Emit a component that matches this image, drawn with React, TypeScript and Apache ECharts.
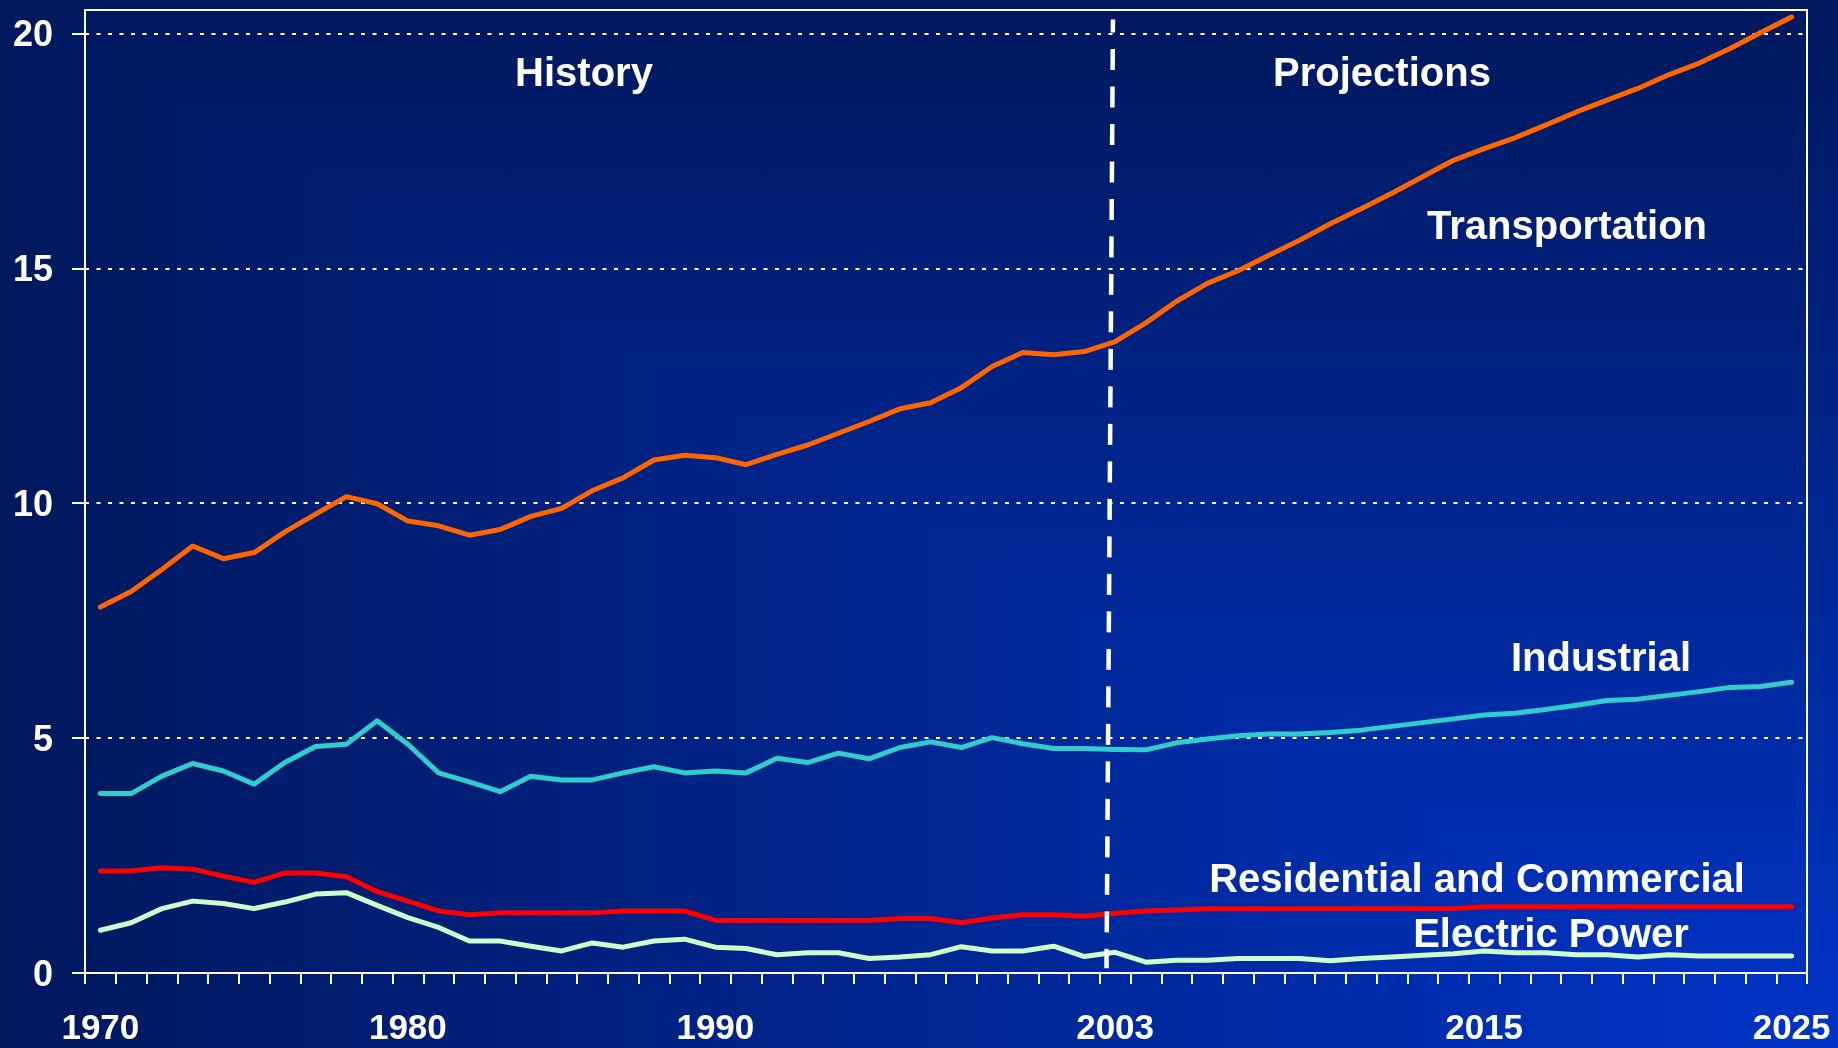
import React, { useEffect, useRef } from "react";
import * as echarts from "echarts";

const FONT = '"Liberation Sans", Arial, sans-serif';
const W = 1838;
const H = 1048;

const years: string[] = Array.from({ length: 56 }, (_, i) => String(1970 + i));
const labelYears = ["1970", "1980", "1990", "2003", "2015", "2025"];
const yTicks = [0, 5, 10, 15, 20];

const transportation = [
  7.79, 8.12, 8.59, 9.09, 8.82, 8.95, 9.39, 9.77, 10.14, 9.99,
  9.62, 9.52, 9.32, 9.44, 9.72, 9.89, 10.27, 10.54, 10.92, 11.02,
  10.97, 10.82, 11.04, 11.24, 11.49, 11.74, 12.01, 12.14, 12.46, 12.91,
  13.21, 13.16, 13.23, 13.44,
  13.84, 14.3, 14.68, 14.95, 15.28, 15.6, 15.95, 16.27, 16.6, 16.95,
  17.3, 17.55, 17.78, 18.05, 18.33, 18.58, 18.83, 19.12, 19.37, 19.68,
  20.02, 20.35,
];

const industrial = [
  3.82, 3.82, 4.19, 4.46, 4.3, 4.02, 4.48, 4.82, 4.87, 5.37,
  4.87, 4.26, 4.07, 3.86, 4.19, 4.11, 4.11, 4.26, 4.39, 4.26,
  4.3, 4.26, 4.57, 4.48, 4.68, 4.56, 4.8, 4.92, 4.8, 5.01,
  4.88, 4.78, 4.78, 4.76,
  4.75, 4.9, 4.98, 5.05, 5.09, 5.09, 5.12, 5.17, 5.25, 5.33,
  5.41, 5.49, 5.53, 5.61, 5.7, 5.8, 5.83, 5.91, 5.99, 6.08,
  6.1, 6.19,
];

const residential = [
  2.17, 2.17, 2.24, 2.21, 2.06, 1.93, 2.13, 2.13, 2.05, 1.73,
  1.53, 1.32, 1.24, 1.28, 1.28, 1.28, 1.28, 1.32, 1.32, 1.32,
  1.12, 1.12, 1.12, 1.12, 1.12, 1.12, 1.16, 1.16, 1.07, 1.17,
  1.24, 1.24, 1.21, 1.27,
  1.32, 1.34, 1.37, 1.37, 1.37, 1.37, 1.37, 1.37, 1.37, 1.37,
  1.37, 1.41, 1.41, 1.41, 1.41, 1.41, 1.41, 1.41, 1.41, 1.41,
  1.41, 1.41,
];

const electric = [
  0.91, 1.07, 1.37, 1.53, 1.48, 1.37, 1.51, 1.68, 1.71, 1.44,
  1.18, 0.97, 0.68, 0.68, 0.57, 0.47, 0.64, 0.55, 0.68, 0.72,
  0.55, 0.52, 0.39, 0.43, 0.43, 0.31, 0.34, 0.39, 0.56, 0.47,
  0.47, 0.57, 0.35, 0.44,
  0.23, 0.27, 0.27, 0.31, 0.31, 0.31, 0.26, 0.31, 0.34, 0.38,
  0.41, 0.47, 0.43, 0.43, 0.39, 0.39, 0.34, 0.39, 0.36, 0.36,
  0.36, 0.36,
];

const seriesDefs = [
  { name: "Transportation", data: transportation, color: "#FF6600" },
  { name: "Industrial", data: industrial, color: "#33CCCC" },
  { name: "Residential and Commercial", data: residential, color: "#FF0000" },
  { name: "Electric Power", data: electric, color: "#CCFFCC" },
];

const annotations = [
  { text: "History", x: 584, y: 72 },
  { text: "Projections", x: 1382, y: 72 },
  { text: "Transportation", x: 1567, y: 225 },
  { text: "Industrial", x: 1601, y: 657 },
  { text: "Residential and Commercial", x: 1477, y: 878 },
  { text: "Electric Power", x: 1551, y: 933 },
];

const DARK = "#00185c";
const BRIGHT = "#0034c6";

export default function App() {
  const ref = useRef<HTMLDivElement>(null);

  useEffect(() => {
    if (!ref.current) return;
    const chart = echarts.init(ref.current, undefined, { renderer: "svg" });

    const vertGrad = new echarts.graphic.LinearGradient(0, 0, 0, 1, [
      { offset: 0, color: DARK },
      { offset: 1, color: BRIGHT },
    ]);
    const horzGrad = new echarts.graphic.LinearGradient(0, 0, 1, 0, [
      { offset: 0, color: DARK },
      { offset: 1, color: BRIGHT },
    ]);

    const option: any = {
      animation: false,
      backgroundColor: "transparent",
      textStyle: { fontFamily: FONT },
      grid: {
        left: 85,
        right: 31,
        top: 10,
        bottom: 75,
        show: true,
        borderColor: "#ffffff",
        borderWidth: 2,
        backgroundColor: "transparent",
      },
      xAxis: [
        {
          type: "category",
          data: years,
          boundaryGap: true,
          axisLine: { show: true, lineStyle: { color: "#ffffff", width: 2 } },
          axisTick: {
            show: true,
            interval: 0,
            length: 11,
            lineStyle: { color: "#ffffff", width: 2 },
          },
          axisLabel: {
            interval: (_i: number, v: string) => labelYears.includes(v),
            color: "#ffffff",
            fontSize: 35,
            lineHeight: 30,
            fontWeight: "bold",
            fontFamily: FONT,
            margin: 38,
          },
          splitLine: { show: false },
        },
        {
          type: "value",
          min: 1969.5,
          max: 2025.5,
          show: false,
        },
      ],
      yAxis: {
        type: "value",
        min: 0,
        max: 20.5,
        interval: 5,
        axisLine: { show: true, lineStyle: { color: "#ffffff", width: 2 } },
        axisTick: {
          show: true,
          length: 13,
          customValues: yTicks,
          lineStyle: { color: "#ffffff", width: 2 },
        },
        axisLabel: {
          customValues: yTicks,
          color: "#ffffff",
          fontSize: 36,
          lineHeight: 30,
          fontWeight: "bold",
          fontFamily: FONT,
          margin: 32,
          formatter: (v: number) => (yTicks.includes(v) ? String(v) : ""),
        },
        splitLine: {
          show: true,
          lineStyle: { color: "#ffffff", width: 2, type: [4, 7.5] },
        },
      },
      graphic: [
        {
          type: "rect",
          z: -100,
          silent: true,
          shape: { x: 0, y: 0, width: W, height: H },
          style: { fill: vertGrad },
        },
        {
          type: "polygon",
          z: -99,
          silent: true,
          shape: { points: [[0, 0], [0, H], [W, H]] },
          style: { fill: horzGrad },
        },
        ...annotations.map((a) => ({
          type: "text",
          z: 100,
          silent: true,
          x: a.x,
          y: a.y,
          style: {
            text: a.text,
            fill: "#ffffff",
            fontSize: 40,
            fontWeight: "bold",
            fontFamily: FONT,
            align: "center",
            verticalAlign: "middle",
          },
        })),
      ],
      series: [
        ...seriesDefs.map((s) => ({
          type: "line",
          name: s.name,
          data: s.data,
          xAxisIndex: 0,
          yAxisIndex: 0,
          symbol: "none",
          showSymbol: false,
          z: 3,
          lineStyle: { color: s.color, width: 5, cap: "round", join: "round" },
        })),
        {
          type: "line",
          name: "divider",
          xAxisIndex: 1,
          yAxisIndex: 0,
          data: [],
          z: 10,
          markLine: {
            silent: true,
            symbol: ["none", "none"],
            label: { show: false },
            z: 10,
            lineStyle: {
              color: "#ffffff",
              width: 4.5,
              type: [21, 16.5],
              dashOffset: 8,
            },
            data: [[{ coord: [2002.93, 20.3] }, { coord: [2002.72, 0.1] }]],
          },
        },
      ],
    };

    chart.setOption(option);
    return () => chart.dispose();
  }, []);

  return (
    <div
      ref={ref}
      style={{ position: "fixed", left: 0, top: 0, width: W, height: H }}
    />
  );
}
